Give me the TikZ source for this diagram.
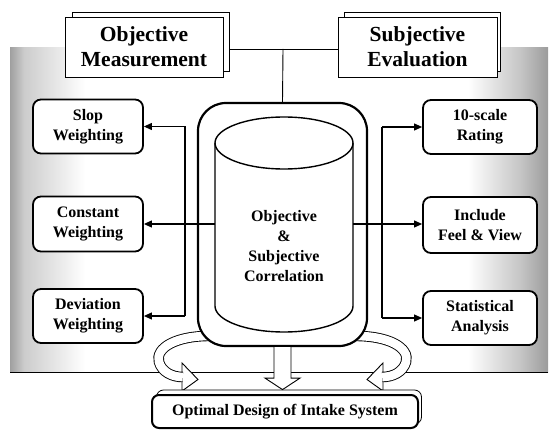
\documentclass[tikz,border=0pt]{standalone}
\usepackage{fontspec}
\setmainfont{Liberation Serif}
\usetikzlibrary{arrows.meta,calc}

% curved block arrow (ribbon with head), drawn for the left side
\newcommand\ribbonshape{%
  \filldraw[fill=white, draw=black, line width=0.9pt]
    (182,363) -- (198,379.5) -- (182,391) -- cycle;
  \draw[line width=10.5pt, black]
    (214,336) .. controls (176,335) and (155,348) .. (159,362)
    .. controls (162,372) and (172,377) .. (182.8,377);
  \draw[line width=8.7pt, white]
    (214,336) .. controls (176,335) and (155,348) .. (159,362)
    .. controls (162,372) and (172,377) .. (182.8,377);
}

\begin{document}
\begin{tikzpicture}[x=1pt, y=-1pt,
  boxtxt/.style={font=\bfseries\fontsize{16}{20}\selectfont, align=center},
  sidebox/.style={boxtxt, draw, line width=1.8pt, rounded corners=8pt,
    fill=white, minimum width=110pt, minimum height=54pt, inner sep=0pt},
  headbox/.style={draw, line width=0.9pt, fill=white, minimum width=158pt,
    minimum height=60pt, inner sep=0pt, align=center,
    font=\bfseries\fontsize{21.5}{25}\selectfont},
  sheet/.style={draw, line width=0.8pt, fill=white, inner sep=0pt},
  link/.style={line width=1.1pt},
  arr/.style={link, -{Triangle[length=8pt,width=7pt]}},
]
\useasboundingbox (0,0) rectangle (551,430);

% shaded panel behind the diagram
\shade[left color=gray!75, right color=gray!40] (10,48) rectangle (24,372);
\shade[left color=gray!40, right color=white] (24,48) rectangle (85,372);
\shade[left color=white, right color=gray!45] (468,48) rectangle (520,372);
\shade[left color=gray!45, right color=gray!78] (520,48) rectangle (548,372);
\draw[line width=1pt] (10,372) -- (548,372);

% curved arrows on both sides
\ribbonshape
\begin{scope}[xshift=565pt, xscale=-1]
  \ribbonshape
\end{scope}

% header boxes with a sheet behind each
\node[sheet, minimum width=157pt, minimum height=59pt] (objB) at (150.5,41.5) {};
\node[headbox] (objM) at (144,47) {Objective\\Measurement};
\node[sheet, minimum width=156pt, minimum height=59pt] (subB) at (422,41.5) {};
\node[headbox, minimum width=159pt] (subM) at (417.5,47) {Subjective\\Evaluation};

% side boxes
\node[sidebox] (slop) at (88,126.5) {Slop\\Weighting};
\node[sidebox, minimum height=55pt] (const) at (88,224) {Constant\\Weighting};
\node[sidebox] (dev) at (88,316) {Deviation\\Weighting};
\node[sidebox, minimum width=114pt] (rate) at (480,127) {10-scale\\Rating};
\node[sidebox, minimum width=114pt, minimum height=56pt] (feel) at (480,225) {Include\\Feel \& View};
\node[sidebox, minimum width=114pt] (stat) at (480,318) {Statistical\\Analysis};

% central frame and cylinder
\node[draw, line width=2.2pt, rounded corners=28pt, fill=white,
  minimum width=169pt, minimum height=243pt, inner sep=0pt] (corr) at (282.5,224.5) {};
\node[minimum width=138pt, minimum height=215pt, inner sep=0pt] (cyl) at (284,224) {};
\draw[line width=1.4pt] (215,143) -- (215,306)
  arc[start angle=180, end angle=0, x radius=69, y radius=26] -- (353,143);
\draw[line width=1.4pt] (284,143) ellipse [x radius=69, y radius=26];
\node[boxtxt, font=\bfseries\fontsize{16}{19.7}\selectfont] (cylt) at (284,246)
  {Objective\\\&\\Subjective\\Correlation};

% header connectors
\coordinate (hub) at (283,49);
\draw[line width=0.9pt] (objB.east |- hub) -- (subM.west |- hub);
\draw[line width=0.9pt] (hub) -- (corr.north);

% connectors to the side boxes
\coordinate (lbx) at (185,0);
\coordinate (rbx) at (382,0);
\draw[link] (slop.east -| lbx) -- (dev.east -| lbx);
\draw[arr] (slop.east -| lbx) -- (slop.east);
\draw[arr] (dev.east -| lbx) -- (dev.east);
\draw[arr] (cyl.west) -- (const.east);
\draw[link] (rate.west -| rbx) -- (stat.west -| rbx);
\draw[arr] (rate.west -| rbx) -- (rate.west);
\draw[arr] (stat.west -| rbx) -- (stat.west);
\draw[arr] (cyl.east) -- (feel.west |- cyl.east);

% bottom box with a sheet behind it
\node[draw, line width=0.8pt, rounded corners=7pt, fill=white,
  minimum width=265pt, minimum height=34pt, inner sep=0pt] (optB) at (289,407) {};
\node[boxtxt, draw, line width=2pt, rounded corners=7pt, fill=white,
  minimum width=266pt, minimum height=33pt, inner sep=0pt] (opt) at (285,411.5)
  {Optimal Design of Intake System};

% down arrow from the frame to the bottom box
\coordinate (dtop) at (corr.south);
\coordinate (dtip) at (dtop |- optB.north);
\fill[white] ($(dtop)+(-8.5,0)$) -- ($(dtop)+(-8.5,31)$) -- ($(dtop)+(-17.5,31)$)
  -- (dtip) -- ($(dtop)+(17.5,31)$) -- ($(dtop)+(8.5,31)$) -- ($(dtop)+(8.5,0)$) -- cycle;
\draw[line width=0.9pt] ($(dtop)+(-8.5,0)$) -- ($(dtop)+(-8.5,31)$) -- ($(dtop)+(-17.5,31)$)
  -- (dtip) -- ($(dtop)+(17.5,31)$) -- ($(dtop)+(8.5,31)$) -- ($(dtop)+(8.5,0)$);
\end{tikzpicture}
\end{document}
